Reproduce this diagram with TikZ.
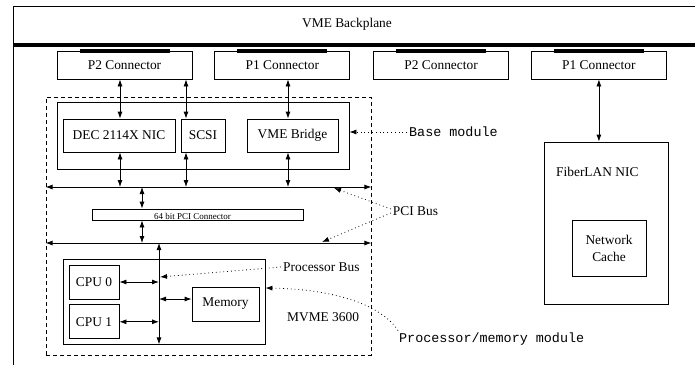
\documentclass[tikz,border=0pt]{standalone}
\usepackage{fontspec}
\setmainfont{Liberation Serif}
\setmonofont{Liberation Mono}
\usepackage{tikz}
\usetikzlibrary{arrows.meta, positioning}
\newcommand{\figsize}{\fontsize{13.4}{17}\selectfont}
\tikzset{
  unitbox/.style={draw, line width=0.8pt, inner sep=0pt, align=center, font=\figsize},
  conbox/.style={unitbox, minimum width=135pt, minimum height=28pt},
  cpubox/.style={unitbox, minimum width=50pt, minimum height=34pt},
  cardbox/.style={draw, line width=0.8pt, dash pattern=on 4pt off 3pt, inner sep=0pt},
  dblarrow/.style={{Latex[length=7pt,width=5pt]}-{Latex[length=7pt,width=5pt]}, line width=0.8pt},
  pointer/.style={-{Latex[length=7pt,width=5pt]}, line width=0.8pt, dash pattern=on 0.8pt off 3pt},
  seriflabel/.style={font=\figsize, inner sep=2pt},
  ttlabel/.style={font=\figsize\ttfamily, inner sep=2pt},
  pinbar/.style={line width=4pt}
}

\begin{document}
\begin{tikzpicture}[x=1pt, y=-1pt]
\useasboundingbox (0,0) rectangle (695,365);

% Backplane
\draw[line width=0.8pt] (13,365) -- (13,6) -- (695,6);
\coordinate (bpw) at (13,45);
\coordinate (bpe) at (695,45);
\draw[line width=4pt] (bpw) -- (bpe);
\node[seriflabel] (backplane) at (347,24) {VME Backplane};

% Connectors (row)
\node[conbox] (p2a) at (124.5,65) {P2 Connector};
\node[conbox, right=22pt of p2a] (p1a) {P1 Connector};
\node[conbox, right=23pt of p1a] (p2b) {P2 Connector};
\node[conbox, right=22pt of p2b] (p1b) {P1 Connector};
\foreach \c in {p2a,p1a,p2b,p1b}
  \draw[pinbar] ([xshift=-45pt]\c.north) -- ([xshift=45pt]\c.north);

% MVME 3600 card
\node[cardbox, minimum width=325pt, minimum height=258pt] (card) at (208.5,226) {};

% Base module
\node[unitbox, minimum width=292pt, minimum height=67pt] (base) at (203,135.5) {};
\node[unitbox, minimum width=112pt, minimum height=33pt] (nic) at (119,135.5) {DEC 2114X NIC};
\node[unitbox, minimum width=44pt, minimum height=33pt] (scsi) at (203,135.5) {SCSI};
\node[unitbox, minimum width=91pt, minimum height=33pt] (bridge) at (292.5,135.5) {VME Bridge};

% Buses
\coordinate (pcibus) at (0,187);
\coordinate (procbus) at (0,243);
\draw[dblarrow] (card.west |- pcibus) -- (card.east |- pcibus);
\draw[dblarrow] (card.west |- procbus) -- (card.east |- procbus);

% PCI connector
\node[draw, line width=0.8pt, minimum width=211pt, minimum height=11pt, inner sep=0pt] (pcicon) at (197.5,214.5) {};
\node[font=\fontsize{9}{10}\selectfont, inner sep=0pt, anchor=base] (pcitext) at ([xshift=-5pt, yshift=1pt]pcicon.south) {64 bit PCI Connector};

% Processor/memory module
\node[unitbox, minimum width=202pt, minimum height=85pt] (procmod) at (164,301.5) {};
\node[cpubox] (cpu0) at (94,282) {CPU 0};
\node[cpubox, below=5pt of cpu0] (cpu1) {CPU 1};
\node[unitbox, minimum width=67pt, minimum height=34pt] (memory) at (225.5,304) {Memory};

% FiberLAN NIC
\node[unitbox, minimum width=124pt, minimum height=162pt] (fiber) at (606,223) {};
\node[seriflabel, anchor=west] (fibertitle) at (554,172) {FiberLAN NIC};
\node[unitbox, minimum width=74pt, minimum height=56pt] (cache) at (609,248) {Network\\Cache};

% Arrows
\coordinate (nicx) at (120,0);
\coordinate (scsix) at (186,0);
\coordinate (bridgex) at (288,0);
\coordinate (pcix) at (142,0);
\coordinate (cpubusx) at (159,0);
\draw[dblarrow] (p2a.south -| nicx) -- (nic.north -| nicx);
\draw[dblarrow] (p2a.south -| scsix) -- (scsi.north -| scsix);
\draw[dblarrow] (p1a.south -| bridgex) -- (bridge.north -| bridgex);
\draw[dblarrow] (nic.south -| nicx) -- (pcibus -| nicx);
\draw[dblarrow] (scsi.south -| scsix) -- (pcibus -| scsix);
\draw[dblarrow] (bridge.south -| bridgex) -- (pcibus -| bridgex);
\draw[dblarrow] (pcibus -| pcix) -- (pcicon.north -| pcix);
\draw[dblarrow] (pcicon.south -| pcix) -- (procbus -| pcix);
\draw[dblarrow] (procbus -| cpubusx) -- (procmod.south -| cpubusx);
\draw[dblarrow] (cpu0) -- (cpu0 -| cpubusx);
\draw[dblarrow] (cpu1) -- (cpu1 -| cpubusx);
\draw[dblarrow] ([yshift=5pt]memory.west -| cpubusx) -- ([yshift=5pt]memory.west);
\draw[dblarrow] (p1b.south) -- (p1b.south |- fiber.north);

% Labels and pointers
\node[ttlabel, anchor=west] (baselabel) at (407,132) {Base module};
\draw[pointer] (baselabel.west) -- (base.east |- baselabel.west);

\node[seriflabel] (pcilabel) at (415.5,211) {PCI Bus};
\coordinate (pcitip) at (334,188);
\coordinate (proctip) at (322,242);
\draw[pointer] ([yshift=2pt]pcilabel.west) -- (pcitip);
\draw[pointer] ([yshift=-2pt]pcilabel.west) -- (proctip);

\node[seriflabel, anchor=west] (procbuslabel) at (281,267) {Processor Bus};
\coordinate (cpubustip) at (160,277);
\draw[pointer] (procbuslabel.west) -- (cpubustip);

\node[seriflabel, anchor=west] (mvmelabel) at (285,317) {MVME 3600};

\node[ttlabel, anchor=west] (pmlabel) at (397,339) {Processor/memory module};
\draw[pointer] ([xshift=1pt]pmlabel.north west) .. controls (380,303) and (330,289) .. ([yshift=13.5pt]procmod.east);

\end{tikzpicture}
\end{document}
